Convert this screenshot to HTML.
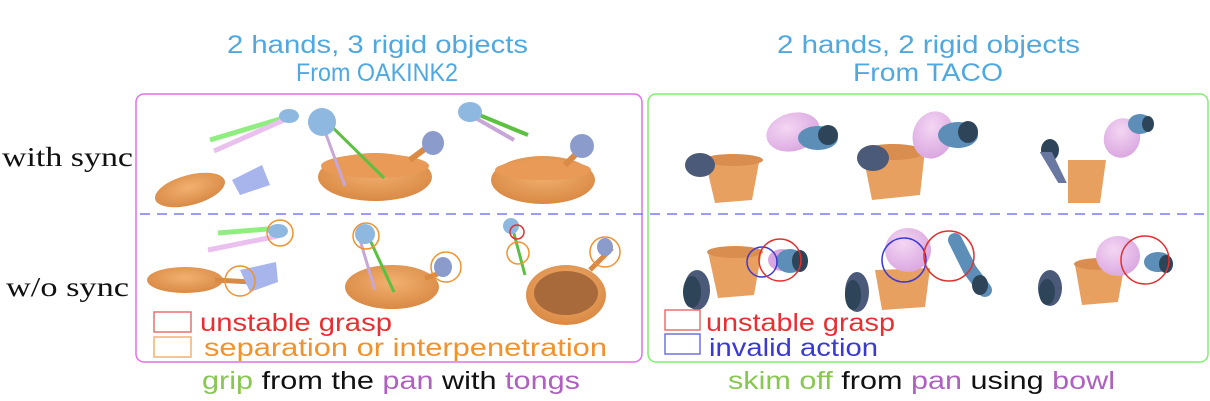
<!DOCTYPE html>
<html><head><meta charset="utf-8"><style>
html,body{margin:0;padding:0;background:#fff;width:1210px;height:401px;overflow:hidden}
svg text{font-family:"Liberation Sans",sans-serif}
</style></head><body>
<svg width="1210" height="401" viewBox="0 0 1210 401" xmlns="http://www.w3.org/2000/svg">
<defs>
<radialGradient id="pan" cx="50%" cy="40%" r="60%"><stop offset="0" stop-color="#f2b070"/><stop offset="1" stop-color="#d98a45"/></radialGradient>
<radialGradient id="bowl" cx="40%" cy="35%" r="70%"><stop offset="0" stop-color="#f4d6f4"/><stop offset="1" stop-color="#d9a6df"/></radialGradient>
</defs>
<g fill="#4fa8e0" font-size="25" lengthAdjust="spacingAndGlyphs">
<text x="227" y="53" textLength="301" lengthAdjust="spacingAndGlyphs">2 hands, 3 rigid objects</text>
<text x="296" y="81" textLength="162" lengthAdjust="spacingAndGlyphs">From OAKINK2</text>
<text x="777" y="53" textLength="303" lengthAdjust="spacingAndGlyphs">2 hands, 2 rigid objects</text>
<text x="853" y="81" textLength="150" lengthAdjust="spacingAndGlyphs">From TACO</text>
</g>
<text x="2" y="166" font-size="27" fill="#111" style="font-family:'Liberation Serif',serif" textLength="131" lengthAdjust="spacingAndGlyphs">with sync</text>
<text x="6" y="296" font-size="27" fill="#111" style="font-family:'Liberation Serif',serif" textLength="123" lengthAdjust="spacingAndGlyphs">w/o sync</text>
<rect x="136" y="94" width="506" height="268" rx="8" fill="none" stroke="#e070e8" stroke-width="1.5"/>
<rect x="648" y="94" width="560" height="268" rx="8" fill="none" stroke="#80ee70" stroke-width="1.5"/>
<line x1="140" y1="214" x2="1210" y2="214" stroke="#7a7af5" stroke-width="1.5" stroke-dasharray="10,7"/>

<g>
<line x1="210" y1="140" x2="290" y2="116" stroke="#90ee80" stroke-width="5"/>
<line x1="214" y1="151" x2="284" y2="120" stroke="#eac0ee" stroke-width="5"/>
<ellipse cx="289" cy="116" rx="10" ry="7" fill="#8eb8e0"/>
<ellipse cx="190" cy="190" rx="36" ry="15" fill="url(#pan)" transform="rotate(-15 190 190)"/>
<path d="M232 180 L262 165 L270 185 L240 195 Z" fill="#a8b4ec"/>
<ellipse cx="375" cy="177" rx="57" ry="24" fill="url(#pan)"/>
<ellipse cx="375" cy="166" rx="54" ry="12" fill="#e89a56"/>
<path d="M410 160 L430 145" stroke="#d98a45" stroke-width="6"/>
<ellipse cx="433" cy="143" rx="11" ry="12" fill="#8b9ccc"/>
<line x1="320" y1="118" x2="345" y2="186" stroke="#c7a6d8" stroke-width="3"/>
<line x1="323" y1="118" x2="384" y2="178" stroke="#5cc040" stroke-width="3"/>
<ellipse cx="322" cy="122" rx="14" ry="14" fill="#8eb8e0"/>
<ellipse cx="543" cy="180" rx="52" ry="24" fill="url(#pan)"/>
<ellipse cx="543" cy="170" rx="48" ry="10" fill="#e89a56"/>
<path d="M565 165 L580 150" stroke="#d98a45" stroke-width="6"/>
<ellipse cx="582" cy="146" rx="12" ry="12" fill="#8b9ccc"/>
<line x1="472" y1="112" x2="528" y2="135" stroke="#5cc040" stroke-width="4"/>
<line x1="472" y1="116" x2="514" y2="140" stroke="#c7a6d8" stroke-width="4"/>
<ellipse cx="470" cy="112" rx="12" ry="10" fill="#8eb8e0"/>
</g>
<g>
<line x1="218" y1="233" x2="280" y2="228" stroke="#90ee80" stroke-width="5"/>
<line x1="208" y1="250" x2="278" y2="236" stroke="#eac0ee" stroke-width="5"/>
<ellipse cx="278" cy="231" rx="10" ry="7" fill="#8eb8e0"/>
<circle cx="280" cy="233" r="13" fill="none" stroke="#f0922e" stroke-width="1.5"/>
<ellipse cx="185" cy="280" rx="38" ry="13" fill="url(#pan)"/>
<line x1="215" y1="280" x2="252" y2="282" stroke="#d98a45" stroke-width="5"/>
<path d="M240 270 L276 262 L278 282 L250 292 Z" fill="#a8b4ec"/>
<circle cx="240" cy="281" r="15" fill="none" stroke="#f0922e" stroke-width="1.5"/>
<ellipse cx="392" cy="287" rx="47" ry="22" fill="url(#pan)"/>
<line x1="360" y1="240" x2="375" y2="290" stroke="#c7a6d8" stroke-width="3"/>
<line x1="370" y1="240" x2="394" y2="292" stroke="#5cc040" stroke-width="3"/>
<ellipse cx="365" cy="234" rx="10" ry="10" fill="#8eb8e0"/>
<circle cx="366" cy="236" r="13" fill="none" stroke="#f0922e" stroke-width="1.5"/>
<line x1="425" y1="278" x2="450" y2="270" stroke="#d98a45" stroke-width="5"/>
<ellipse cx="443" cy="267" rx="9" ry="10" fill="#8b9ccc"/>
<circle cx="446" cy="267" r="15" fill="none" stroke="#f0922e" stroke-width="1.5"/>
<ellipse cx="566" cy="295" rx="40" ry="30" fill="url(#pan)"/>
<ellipse cx="566" cy="293" rx="32" ry="22" fill="#a86a3a"/>
<line x1="590" y1="270" x2="612" y2="248" stroke="#d98a45" stroke-width="5"/>
<ellipse cx="605" cy="247" rx="8" ry="9" fill="#8b9ccc"/>
<circle cx="605" cy="252" r="15" fill="none" stroke="#f0922e" stroke-width="1.5"/>
<line x1="513" y1="230" x2="525" y2="275" stroke="#5cc040" stroke-width="3"/>
<ellipse cx="511" cy="226" rx="8" ry="8" fill="#8eb8e0"/>
<circle cx="517" cy="232" r="7" fill="none" stroke="#e03030" stroke-width="1.5"/>
<circle cx="518" cy="253" r="11" fill="none" stroke="#f0922e" stroke-width="1.5"/>
</g>
<rect x="154" y="312" width="37" height="20" fill="none" stroke="#e87070" stroke-width="1.5"/>
<rect x="154" y="337" width="37" height="20" fill="none" stroke="#f5b070" stroke-width="1.5"/>
<text x="200" y="331" font-size="25" fill="#e83030" textLength="192" lengthAdjust="spacingAndGlyphs">unstable grasp</text>
<text x="204" y="356" font-size="25" fill="#f0922e" textLength="403" lengthAdjust="spacingAndGlyphs">separation or interpenetration</text>
<text x="202" y="389" font-size="25" textLength="378" lengthAdjust="spacingAndGlyphs"><tspan fill="#88c850">grip</tspan><tspan fill="#111"> from the </tspan><tspan fill="#b060c0">pan</tspan><tspan fill="#111"> with </tspan><tspan fill="#b060c0">tongs</tspan></text>

<g>
<path d="M705 160 L760 157 L752 200 L715 203 Z" fill="#e8a060"/>
<ellipse cx="733" cy="160" rx="30" ry="6" fill="#d98e50"/>
<ellipse cx="700" cy="165" rx="15" ry="12" fill="#4a5a78"/>
<ellipse cx="793" cy="132" rx="27" ry="19" fill="url(#bowl)" transform="rotate(-15 793 132)"/>
<ellipse cx="818" cy="138" rx="20" ry="12" fill="#5c8eb8"/>
<ellipse cx="828" cy="135" rx="10" ry="10" fill="#2e4458"/>
<path d="M863 155 L925 150 L920 195 L872 200 Z" fill="#e8a060"/>
<ellipse cx="893" cy="152" rx="32" ry="8" fill="#d98e50"/>
<ellipse cx="873" cy="158" rx="16" ry="13" fill="#4a5a78"/>
<ellipse cx="933" cy="135" rx="20" ry="24" fill="url(#bowl)" transform="rotate(20 933 135)"/>
<ellipse cx="958" cy="135" rx="20" ry="13" fill="#5c8eb8"/>
<ellipse cx="968" cy="132" rx="10" ry="11" fill="#2e4458"/>
<path d="M1068 160 L1106 160 L1100 203 L1068 203 Z" fill="#e8a060"/>
<ellipse cx="1050" cy="150" rx="9" ry="11" fill="#2e4458"/>
<path d="M1045 155 L1060 180 L1062 180 L1050 155Z" fill="#6878a0" stroke="#6878a0" stroke-width="6"/>
<ellipse cx="1122" cy="138" rx="18" ry="20" fill="url(#bowl)" transform="rotate(20 1122 138)"/>
<ellipse cx="1140" cy="124" rx="12" ry="10" fill="#5c8eb8"/>
<ellipse cx="1148" cy="124" rx="6" ry="8" fill="#2e4458"/>
</g>
<g>
<path d="M708 252 L762 250 L754 295 L718 298 Z" fill="#e8a060"/>
<ellipse cx="735" cy="252" rx="28" ry="6" fill="#d98e50"/>
<ellipse cx="697" cy="290" rx="13" ry="20" fill="#4a5a78"/>
<ellipse cx="692" cy="292" rx="9" ry="16" fill="#2e4458"/>
<ellipse cx="782" cy="260" rx="14" ry="11" fill="#d9a6df"/>
<ellipse cx="790" cy="261" rx="14" ry="12" fill="#5c8eb8"/>
<ellipse cx="800" cy="261" rx="8" ry="11" fill="#2e4458"/>
<circle cx="762" cy="262" r="15" fill="none" stroke="#3a3ad0" stroke-width="1.5"/>
<circle cx="780" cy="260" r="21" fill="none" stroke="#e03030" stroke-width="1.5"/>
<path d="M875 270 L930 268 L925 307 L882 310 Z" fill="#e8a060"/>
<ellipse cx="908" cy="250" rx="23" ry="22" fill="url(#bowl)"/>
<ellipse cx="857" cy="292" rx="12" ry="20" fill="#4a5a78"/>
<ellipse cx="853" cy="295" rx="8" ry="15" fill="#2e4458"/>
<path d="M955 240 L970 270 L985 290" stroke="#5c8eb8" stroke-width="14" fill="none" stroke-linecap="round"/>
<ellipse cx="980" cy="285" rx="8" ry="10" fill="#2e4458"/>
<circle cx="904" cy="260" r="22" fill="none" stroke="#3a3ad0" stroke-width="1.5"/>
<circle cx="949" cy="256" r="25" fill="none" stroke="#e03030" stroke-width="1.5"/>
<path d="M1075 265 L1125 262 L1118 302 L1082 305 Z" fill="#e8a060"/>
<ellipse cx="1100" cy="264" rx="26" ry="6" fill="#d98e50"/>
<ellipse cx="1118" cy="256" rx="22" ry="20" fill="url(#bowl)"/>
<ellipse cx="1050" cy="288" rx="12" ry="18" fill="#4a5a78"/>
<ellipse cx="1047" cy="292" rx="8" ry="13" fill="#2e4458"/>
<ellipse cx="1158" cy="262" rx="14" ry="10" fill="#5c8eb8"/>
<ellipse cx="1166" cy="264" rx="7" ry="9" fill="#2e4458"/>
<circle cx="1145" cy="260" r="24" fill="none" stroke="#e03030" stroke-width="1.5"/>
</g>
<rect x="665" y="310" width="35" height="20" fill="none" stroke="#e87070" stroke-width="1.5"/>
<rect x="665" y="334" width="35" height="20" fill="none" stroke="#7070e0" stroke-width="1.5"/>
<text x="706" y="331" font-size="25" fill="#e83030" textLength="189" lengthAdjust="spacingAndGlyphs">unstable grasp</text>
<text x="709" y="356" font-size="25" fill="#3a3ad0" textLength="169" lengthAdjust="spacingAndGlyphs">invalid action</text>
<text x="728" y="389" font-size="25" textLength="387" lengthAdjust="spacingAndGlyphs"><tspan fill="#88c850">skim off</tspan><tspan fill="#111"> from </tspan><tspan fill="#b060c0">pan</tspan><tspan fill="#111"> using </tspan><tspan fill="#b060c0">bowl</tspan></text>
</svg>
</body></html>
